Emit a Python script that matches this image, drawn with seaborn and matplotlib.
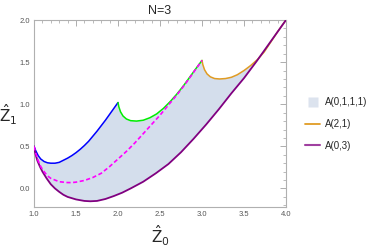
import numpy as np
import matplotlib
matplotlib.use('Agg')
import matplotlib.pyplot as plt
import seaborn as sns
from matplotlib.lines import Line2D
from matplotlib.ticker import MultipleLocator, FormatStrFormatter

# curves (Z0, Z1)
purple_x = [1.00, 1.01, 1.02, 1.04, 1.07, 1.10, 1.15, 1.20, 1.25, 1.30, 1.35, 1.40, 1.50,
            1.60, 1.67, 1.75, 1.85, 1.95, 2.05, 2.15, 2.30, 2.45, 2.60, 2.75, 2.90, 3.05,
            3.20, 3.35, 3.50, 3.65, 3.80, 3.90, 4.00]
purple_y = [0.50, 0.44, 0.40, 0.33, 0.26, 0.20, 0.12, 0.05, 0.00, -0.04, -0.075, -0.10, -0.13,
            -0.148, -0.152, -0.148, -0.125, -0.09, -0.05, 0.00, 0.08, 0.18, 0.29, 0.43, 0.59, 0.76,
            0.94, 1.13, 1.31, 1.51, 1.72, 1.86, 2.00]

blue_x = [1.00, 1.02, 1.05, 1.08, 1.12, 1.16, 1.20, 1.25, 1.30, 1.35, 1.40, 1.45, 1.50,
          1.55, 1.60, 1.65, 1.70, 1.75, 1.80, 1.85, 1.90, 1.95, 2.00]
blue_y = [0.50, 0.45, 0.39, 0.35, 0.32, 0.305, 0.30, 0.30, 0.31, 0.335, 0.36, 0.39, 0.425,
          0.465, 0.51, 0.56, 0.62, 0.68, 0.745, 0.81, 0.88, 0.95, 1.02]

green_x = [2.00, 2.01, 2.03, 2.06, 2.10, 2.15, 2.22, 2.30, 2.38, 2.46, 2.54, 2.62, 2.70,
           2.78, 2.86, 2.94, 3.00]
green_y = [1.02, 0.97, 0.91, 0.86, 0.825, 0.805, 0.80, 0.81, 0.84, 0.885, 0.95, 1.03, 1.12,
           1.22, 1.33, 1.44, 1.52]

magenta_x = [1.00, 1.02, 1.05, 1.08, 1.12, 1.16, 1.20, 1.25, 1.30, 1.35, 1.40, 1.45, 1.50,
             1.60, 1.70, 1.80, 1.90, 2.00, 2.10, 2.20, 2.30, 2.40, 2.50, 2.60, 2.70, 2.80,
             2.90, 3.00]
magenta_y = [0.50, 0.42, 0.33, 0.26, 0.20, 0.15, 0.12, 0.10, 0.08, 0.075, 0.07, 0.07, 0.075,
             0.095, 0.13, 0.18, 0.26, 0.35, 0.44, 0.54, 0.65, 0.76, 0.87, 0.99, 1.11, 1.24,
             1.38, 1.52]

orange_x = [3.00, 3.01, 3.03, 3.06, 3.10, 3.15, 3.21, 3.28, 3.35, 3.42, 3.50, 3.58, 3.66,
            3.74, 3.82, 3.90, 4.00]
orange_y = [1.52, 1.47, 1.41, 1.36, 1.325, 1.305, 1.30, 1.305, 1.32, 1.35, 1.40, 1.46, 1.53,
            1.62, 1.74, 1.86, 2.00]

labels = ['A(0,1,1,1)', 'A(2,1)', 'A(0,3)']

fill_c = '#d4deec'
orange = '#e09c24'
purple = '#800080'

sns.set_theme(style='white')
plt.rcParams['font.family'] = ['Liberation Sans', 'DejaVu Sans']
plt.rcParams['mathtext.fontset'] = 'dejavusans'

fig = plt.figure(figsize=(3.75, 2.49), dpi=100)
ax = fig.add_axes([34 / 375, 1 - 207 / 249, 252 / 375, 187 / 249])

# region between the upper envelope and the lower curve
up_x = blue_x + green_x + orange_x
up_y = blue_y + green_y + orange_y
ax.fill(up_x + purple_x[::-1], up_y + purple_y[::-1], color=fill_c, lw=0, zorder=1)

kw = dict(sort=False, estimator=None, ax=ax, legend=False)
sns.lineplot(x=blue_x, y=blue_y, color='#0000ff', lw=1.1, zorder=3, **kw)
sns.lineplot(x=green_x, y=green_y, color='#00ee00', lw=1.1, zorder=3, **kw)
sns.lineplot(x=orange_x, y=orange_y, color=orange, lw=1.1, zorder=3, **kw)
sns.lineplot(x=purple_x, y=purple_y, color=purple, lw=1.3, zorder=4, **kw)
sns.lineplot(x=magenta_x, y=magenta_y, color='#ff00ff', lw=1.2, zorder=5, **kw)
ax.lines[-1].set_linestyle((0, (2.5, 1.5)))

ax.set_xlim(1, 4)
ax.set_ylim(-0.22, 2.0)
ax.xaxis.set_major_locator(MultipleLocator(0.5))
ax.xaxis.set_minor_locator(MultipleLocator(0.1))
ax.yaxis.set_major_locator(MultipleLocator(0.5))
ax.yaxis.set_minor_locator(MultipleLocator(0.1))
ax.xaxis.set_major_formatter(FormatStrFormatter('%.1f'))
ax.yaxis.set_major_formatter(FormatStrFormatter('%.1f'))
ax.tick_params(which='both', direction='in', top=True, right=True, color='#a0a0a0',
               labelsize=5.5, labelcolor='#555555', pad=3)
ax.tick_params(which='major', length=4, width=0.6)
ax.tick_params(which='minor', length=2, width=0.5)
for s in ax.spines.values():
    s.set_color('#b0b0b0')
    s.set_linewidth(0.8)

ax.set_title('N=3', fontsize=9, pad=4)
fig.text(8 / 375, 1 - 115 / 249, r'$\hat{\mathrm{Z}}_1$', fontsize=11,
         ha='center', va='center')
fig.text(160 / 375, 1 - 236 / 249, r'$\hat{\mathrm{Z}}_0$', fontsize=11,
         ha='center', va='center')

handles = [Line2D([], [], ls='none', marker='s', markersize=6.5,
                  markerfacecolor='#dce3ee', markeredgecolor='none'),
           Line2D([], [], color=orange, lw=1.3),
           Line2D([], [], color='#a040a0', lw=1.5)]
fig.legend(handles, labels, loc='center left', bbox_to_anchor=(296 / 375, 1 - 124 / 249),
           frameon=False, fontsize=7, handlelength=1.6, handletextpad=0.5,
           labelspacing=1.2)

fig.savefig('out.png', dpi=100)
